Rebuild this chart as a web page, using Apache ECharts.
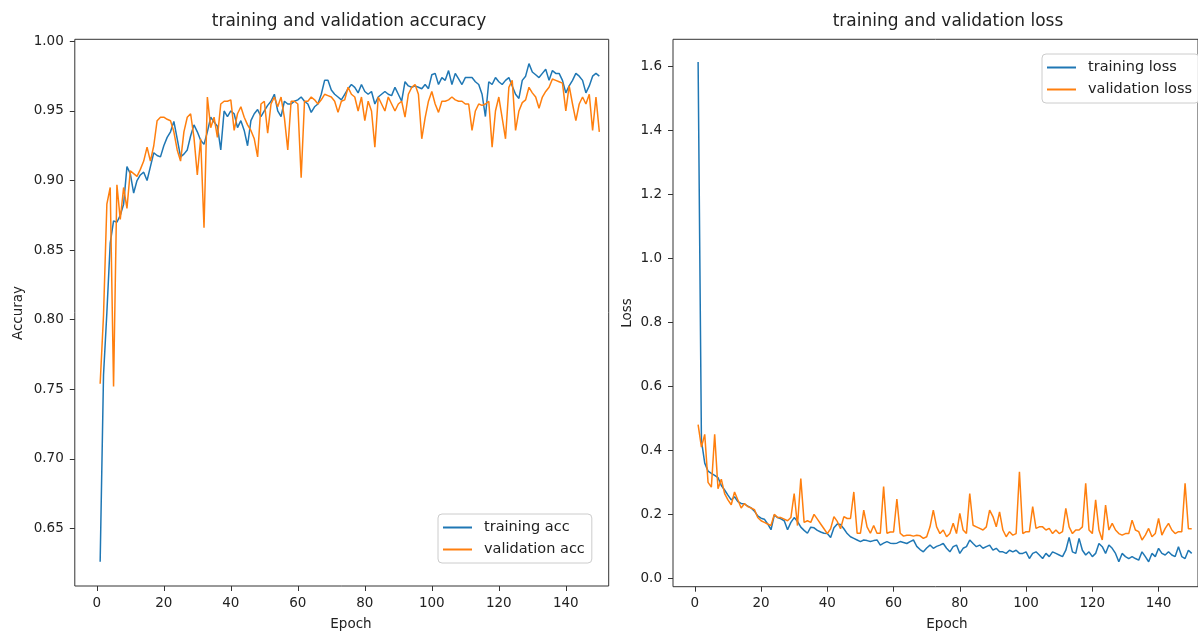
<!DOCTYPE html>
<html><head><meta charset="utf-8">
<script src="https://cdn.jsdelivr.net/npm/echarts@6/dist/echarts.min.js"></script>
<style>html,body{margin:0;padding:0;background:#fff}#c{width:1198px;height:632px}</style>
</head><body><div id="c"></div>
<script>
// ---- data ----
const trainAcc=[0.626,0.76,0.805,0.855,
0.871,0.870,0.875,0.883,0.910,0.905,0.891,0.900,0.904,0.906,0.900,0.910,0.920,0.918,0.917,0.925,0.931,0.935,0.9425,0.930,0.917,0.919,0.922,0.932,0.940,0.935,0.929,0.926,0.935,0.9455,0.942,0.939,
0.922,0.950,0.946,0.950,0.948,0.938,0.943,0.936,0.925,0.943,0.948,0.951,0.946,0.950,0.954,0.957,0.962,0.950,0.946,0.957,0.955,0.955,0.957,0.958,0.960,0.957,0.955,0.949,0.953,0.955,0.962,
0.972,0.972,0.965,0.962,0.960,0.958,0.962,0.966,0.969,0.967,0.963,0.969,0.964,0.962,0.964,0.955,0.960,0.962,0.964,0.962,0.961,0.967,0.962,0.957,0.971,0.968,0.967,0.968,0.967,0.966,
0.969,0.966,0.976,0.977,0.969,0.974,0.972,0.979,0.969,0.977,0.973,0.969,0.974,0.974,0.974,0.971,0.969,0.962,0.946,0.971,0.969,0.974,0.971,0.969,0.972,0.974,0.968,0.962,0.959,0.972,0.975,0.984,
0.978,0.976,0.974,0.977,0.980,0.972,0.979,0.977,0.977,0.972,0.963,0.968,0.972,0.977,0.975,0.972,0.963,0.968,0.975,0.977,0.975];
const valAcc=[0.754,0.803,
0.883,0.895,0.752,0.897,0.872,0.895,0.880,0.907,0.905,0.903,0.908,0.914,0.924,0.914,0.925,0.943,0.9455,0.9455,0.944,0.943,0.935,0.922,0.914,0.935,0.9455,0.948,0.931,0.904,0.930,0.866,0.960,0.938,0.9455,0.931,
0.955,0.957,0.957,0.958,0.936,0.948,0.953,0.9455,0.940,0.936,0.930,0.917,0.955,0.957,0.934,0.955,0.960,0.953,0.960,0.945,0.922,0.957,0.957,0.955,0.902,0.957,0.957,0.960,0.958,0.955,0.958,
0.962,0.961,0.960,0.957,0.949,0.957,0.958,0.967,0.962,0.960,0.950,0.960,0.943,0.957,0.950,0.924,0.960,0.955,0.950,0.960,0.955,0.950,0.955,0.957,0.9455,0.962,0.967,0.969,0.962,
0.930,0.945,0.957,0.964,0.955,0.949,0.957,0.957,0.958,0.960,0.958,0.957,0.957,0.955,0.955,0.936,0.950,0.955,0.954,0.955,0.957,0.924,0.950,0.960,0.945,0.930,0.967,0.972,0.936,0.950,0.956,0.958,
0.967,0.963,0.960,0.952,0.960,0.964,0.967,0.973,0.972,0.971,0.970,0.950,0.968,0.955,0.943,0.955,0.960,0.955,0.962,0.936,0.960,0.935];
const trainLoss=[1.613,0.43,0.36,0.335,0.328,0.322,0.315,0.29,0.276,0.26,
0.245,0.255,0.24,0.234,0.232,0.226,0.22,0.21,0.195,0.188,
0.185,0.17,0.152,0.198,0.19,0.186,0.18,0.152,0.175,0.19,
0.178,0.16,0.15,0.141,0.16,0.158,0.15,0.145,0.141,0.14,
0.128,0.158,0.17,0.168,0.155,0.14,0.13,0.125,0.12,0.115,
0.12,0.118,0.115,0.118,0.12,0.104,0.11,0.115,0.11,0.109,
0.11,0.115,0.112,0.109,0.115,0.12,0.1,0.09,0.083,0.095,
0.104,0.094,0.1,0.104,0.109,0.094,0.083,0.099,0.104,0.078,
0.094,0.099,0.12,0.109,0.099,0.104,0.094,0.099,0.104,0.088,
0.094,0.083,0.083,0.078,0.088,0.083,0.088,0.078,0.078,0.083,
0.062,0.078,0.083,0.073,0.062,0.078,0.068,0.083,0.078,0.073,
0.068,0.088,0.128,0.083,0.078,0.125,0.088,0.073,0.083,0.068,
0.078,0.109,0.099,0.078,0.104,0.094,0.078,0.052,0.078,0.068,
0.062,0.068,0.062,0.057,0.083,0.068,0.052,0.078,0.068,0.094,
0.078,0.073,0.083,0.073,0.068,0.099,0.068,0.062,0.088,0.078];
const valLoss=[0.48,0.41,0.45,0.30,0.285,0.45,0.28,0.31,0.265,0.245,
0.23,0.27,0.245,0.22,0.234,0.224,0.22,0.215,0.19,0.18,
0.175,0.17,0.165,0.2,0.19,0.19,0.185,0.18,0.19,0.265,
0.165,0.312,0.175,0.18,0.175,0.2,0.185,0.17,0.155,0.14,
0.155,0.193,0.178,0.155,0.193,0.187,0.187,0.27,0.141,0.141,
0.213,0.161,0.141,0.165,0.141,0.141,0.287,0.141,0.145,0.145,
0.248,0.141,0.132,0.135,0.135,0.132,0.135,0.133,0.125,0.13,
0.161,0.213,0.161,0.14,0.151,0.13,0.14,0.172,0.14,0.203,
0.151,0.14,0.265,0.166,0.161,0.156,0.151,0.161,0.213,0.193,
0.161,0.208,0.151,0.13,0.146,0.135,0.14,0.333,0.14,0.146,
0.146,0.224,0.156,0.161,0.161,0.151,0.156,0.14,0.151,0.14,
0.146,0.219,0.161,0.14,0.151,0.151,0.161,0.297,0.151,0.14,
0.245,0.151,0.12,0.229,0.151,0.172,0.151,0.14,0.135,0.14,
0.14,0.182,0.151,0.146,0.12,0.135,0.156,0.13,0.14,0.187,
0.135,0.156,0.172,0.151,0.14,0.146,0.146,0.297,0.155,0.155];
const xTicks=[0,20,40,60,80,100,120,140];
const accTicks=[0.65,0.70,0.75,0.80,0.85,0.90,0.95,1.00];
const lossTicks=[0,0.2,0.4,0.6,0.8,1.0,1.2,1.4,1.6];

// ---- chart ----
const FONT='DejaVu Sans';
const BLUE='#1f77b4', ORANGE='#ff7f0e', INK='#222';
const pairs=a=>a.map((v,i)=>[i+1,v]);
const chart=echarts.init(document.getElementById('c'),null,{renderer:'canvas'});

function xAx(gi,min,max){return {type:'value',gridIndex:gi,min:min,max:max,position:'bottom',
  axisLine:{show:false,onZero:false},splitLine:{show:false},
  axisTick:{show:true,inside:false,length:5,customValues:xTicks,lineStyle:{color:'#333',width:1}},
  axisLabel:{customValues:xTicks,fontSize:13.5,fontFamily:FONT,color:INK,margin:10}};}
function yAx(gi,min,max,ticks,dec){return {type:'value',gridIndex:gi,min:min,max:max,position:'left',
  axisLine:{show:false,onZero:false},splitLine:{show:false},
  axisTick:{show:true,inside:false,length:5,customValues:ticks,lineStyle:{color:'#333',width:1}},
  axisLabel:{customValues:ticks,fontSize:13.5,fontFamily:FONT,color:INK,margin:11,
    formatter:v=>Number(v).toFixed(dec)}};}
function legendBox(names,left,top){return {data:names,left:left,top:top,orient:'vertical',
  icon:'rect',itemWidth:29,itemHeight:2,itemGap:5,padding:[5,7,5,5],selectedMode:false,
  borderColor:'#cccccc',borderWidth:1,borderRadius:4,backgroundColor:'rgba(255,255,255,0.85)',
  textStyle:{fontSize:14.5,fontFamily:FONT,color:INK,lineHeight:17,padding:[0,0,0,7]}};}
function txt(s,x,y,size,rot){return {type:'text',x:x,y:y,rotation:rot||0,silent:true,
  style:{text:s,fontSize:size,fontFamily:FONT,fill:INK,align:'center',verticalAlign:'middle'}};}
function line(name,data,xi,color){return {name:name,type:'line',xAxisIndex:xi,yAxisIndex:xi,
  data:pairs(data),showSymbol:false,symbol:'none',lineStyle:{color:color,width:1.5},
  itemStyle:{color:color},clip:true};}

chart.setOption({
  animation:false,
  backgroundColor:'#ffffff',
  grid:[
    {left:74.8,top:39.3,right:589.3,bottom:46,show:true,borderColor:'#333',borderWidth:1,backgroundColor:'transparent'},
    {left:673,top:39.3,right:-5,bottom:45.3,show:true,borderColor:'#333',borderWidth:1,backgroundColor:'transparent'}
  ],
  xAxis:[xAx(0,-6.57,152.8),xAx(1,-6.58,151.9)],
  yAxis:[yAx(0,0.6086,1.0015,accTicks,2),yAx(1,-0.026,1.684,lossTicks,1)],
  legend:[legendBox(['training acc','validation acc'],438,514),
          legendBox(['training loss','validation loss'],1042,54)],
  series:[
    line('training acc',trainAcc,0,BLUE),
    line('validation acc',valAcc,0,ORANGE),
    line('training loss',trainLoss,1,BLUE),
    line('validation loss',valLoss,1,ORANGE)
  ],
  graphic:[
    txt('training and validation accuracy',349,22,17),
    txt('training and validation loss',948,22,17),
    txt('Epoch',351,624,13.5),
    txt('Epoch',947,624,13.5),
    txt('Accuray',18,313,13.5,Math.PI/2),
    txt('Loss',627,313,13.5,Math.PI/2)
  ]
});
</script></body></html>
